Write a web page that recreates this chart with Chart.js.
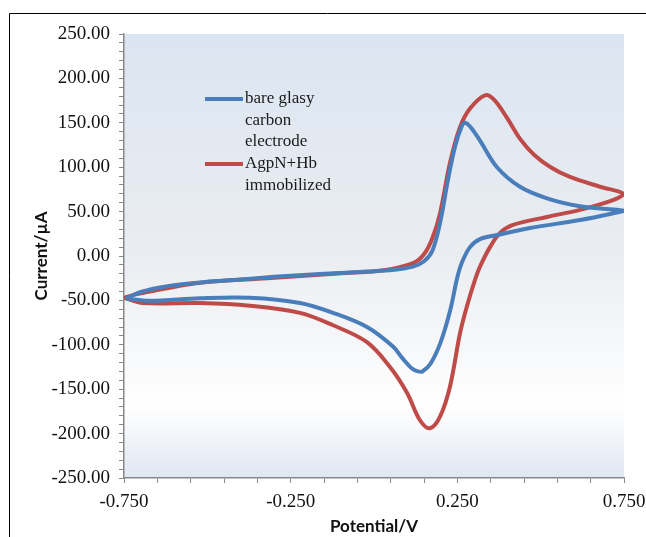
<!DOCTYPE html>
<html>
<head>
<meta charset="utf-8">
<script src="https://cdn.jsdelivr.net/npm/chart.js@4"></script>
<style>
  html, body { margin: 0; padding: 0; background: #fff; }
  #wrap { position: relative; width: 646px; height: 537px; }
</style>
</head>
<body>
<div id="wrap"><canvas id="cv" width="646" height="537"></canvas></div>
<script>
// ---- données ----
const xTicks = [-0.75, -0.65, -0.55, -0.45, -0.35, -0.25, -0.15, -0.05, 0.05, 0.15, 0.25, 0.35, 0.45, 0.55, 0.65, 0.75]
const xLabels = [-0.75, -0.25, 0.25, 0.75]

// électrode nue (bleu) : balayage aller puis retour
const blueX = [-0.745, -0.70, -0.62, -0.50, -0.42, -0.30, -0.15, -0.02, 0.06, 0.117, 0.15, 0.175, 0.198, 0.222, 0.243, 0.262, 0.273, 0.290, 0.318, 0.369, 0.438, 0.519, 0.618, 0.699, 0.748,
  0.717, 0.618, 0.468, 0.369, 0.318, 0.288, 0.264, 0.250, 0.228, 0.200, 0.170, 0.145, 0.132, 0.115, 0.085, 0.057, -0.021, -0.123, -0.222, -0.372, -0.522, -0.672, -0.745]
const blueY = [-48, -40.5, -34, -29, -27, -23.5, -20, -17.5, -15.5, -12, -6, 6, 37, 86, 123, 145, 150, 145, 130, 100, 78, 65, 56, 53, 51,
  48, 40.5, 31.5, 23.6, 19, 10, -7, -24, -62, -97, -121, -130, -130, -127, -115, -102, -80, -64, -53, -47, -47.5, -50.5, -48]

// AgpN+Hb immobilisé (rouge)
const redX = [-0.75, -0.70, -0.52, -0.32, -0.12, 0.03, 0.117, 0.15, 0.175, 0.198, 0.228, 0.258, 0.288, 0.333, 0.360, 0.400, 0.440, 0.480, 0.530, 0.588, 0.678, 0.748,
  0.717, 0.618, 0.519, 0.417, 0.378, 0.348, 0.318, 0.303, 0.280, 0.258, 0.228, 0.198, 0.168, 0.138, 0.099, 0.048, -0.021, -0.123, -0.222, -0.372, -0.522, -0.693, -0.75]
const redY = [-47, -42, -30, -25, -20, -16, -8, 2, 20, 48, 105, 145, 166, 181, 176, 155, 131, 114, 100, 89, 78, 70,
  63, 52, 44, 35, 26, 10, -12, -27, -55, -87, -147, -181, -194, -185, -154, -125, -97, -78, -64, -56, -53, -53, -47]

const bleu = '#4a7ebb'
const rouge = '#be4b48'

// ---- fond dégradé + cadre + légende ----
const decor = {
  id: 'decor',
  beforeDraw(chart) {
    const { ctx, chartArea: a } = chart
    ctx.save()
    const g = ctx.createLinearGradient(0, a.top, 0, a.bottom)
    g.addColorStop(0, '#dbe5f1')
    g.addColorStop(0.5, '#eaedf1')
    g.addColorStop(0.84, '#ffffff')
    g.addColorStop(1, '#dfe7f2')
    ctx.fillStyle = g
    ctx.fillRect(a.left, a.top, a.right - a.left, a.bottom - a.top)
    ctx.strokeStyle = '#000'
    ctx.lineWidth = 1
    ctx.beginPath()
    ctx.moveTo(9.5, 537)
    ctx.lineTo(9.5, 13.5)
    ctx.lineTo(646, 13.5)
    ctx.stroke()
    ctx.restore()
  },
  afterDraw(chart) {
    const { ctx } = chart
    const items = [
      { color: bleu, lines: ['bare glasy', 'carbon', 'electrode'], y: 99 },
      { color: rouge, lines: ['AgpN+Hb', 'immobilized'], y: 164 }
    ]
    ctx.save()
    ctx.font = '17px "Liberation Serif", serif'
    ctx.fillStyle = '#1a1a1a'
    ctx.textBaseline = 'middle'
    items.forEach(it => {
      ctx.strokeStyle = it.color
      ctx.lineWidth = 4
      ctx.beginPath()
      ctx.moveTo(205, it.y)
      ctx.lineTo(243, it.y)
      ctx.stroke()
      it.lines.forEach((l, i) => ctx.fillText(l, 245, it.y + i * 21.5))
    })
    ctx.restore()
  }
}

const serif = { family: '"Liberation Serif", "Times New Roman", serif', size: 19 }
const titre = { family: 'Lato, "Open Sans", sans-serif', size: 17, weight: 'bold' }

new Chart(document.getElementById('cv'), {
  type: 'scatter',
  data: {
    datasets: [
      { label: 'bare glasy carbon electrode', data: blueX.map((x, i) => ({ x, y: blueY[i] })),
        showLine: true, borderColor: bleu, borderWidth: 4, pointRadius: 0, tension: 0.35 },
      { label: 'AgpN+Hb immobilized', data: redX.map((x, i) => ({ x, y: redY[i] })),
        showLine: true, borderColor: rouge, borderWidth: 4, pointRadius: 0, tension: 0.35 }
    ]
  },
  options: {
    responsive: false,
    animation: false,
    layout: { padding: { top: 34, right: 22, left: 31, bottom: 0 } },
    plugins: { legend: { display: false }, tooltip: { enabled: false } },
    scales: {
      x: {
        type: 'linear', min: -0.75, max: 0.75,
        afterBuildTicks: s => { s.ticks = xTicks.map(v => ({ value: v })) },
        afterFit: s => { s.height = 59; s.paddingRight = 0; s.paddingLeft = 0 },
        ticks: {
          autoSkip: false, maxRotation: 0, color: '#111', font: serif, padding: 8,
          callback: v => xLabels.some(l => Math.abs(l - v) < 1e-6) ? v.toFixed(3) : ''
        },
        grid: { drawOnChartArea: false, drawTicks: true, tickLength: 5, tickColor: '#888' },
        border: { color: '#888', width: 1.5 },
        title: { display: true, text: 'Potential/V', font: titre, color: '#111', padding: { top: 0, bottom: 0 } }
      },
      y: {
        type: 'linear', min: -250, max: 250,
        afterFit: s => { s.width = 93 },
        ticks: {
          stepSize: 10, autoSkip: false, color: '#111', font: serif, padding: 9,
          callback: v => v % 50 === 0 ? v.toFixed(2) : ''
        },
        grid: { drawOnChartArea: false, drawTicks: true, tickLength: 5, tickColor: '#888' },
        border: { color: '#888', width: 1.5 },
        title: { display: true, text: 'Current/µA', font: titre, color: '#111', padding: { top: 0, bottom: 4 } }
      }
    }
  },
  plugins: [decor]
})
</script>
</body>
</html>
